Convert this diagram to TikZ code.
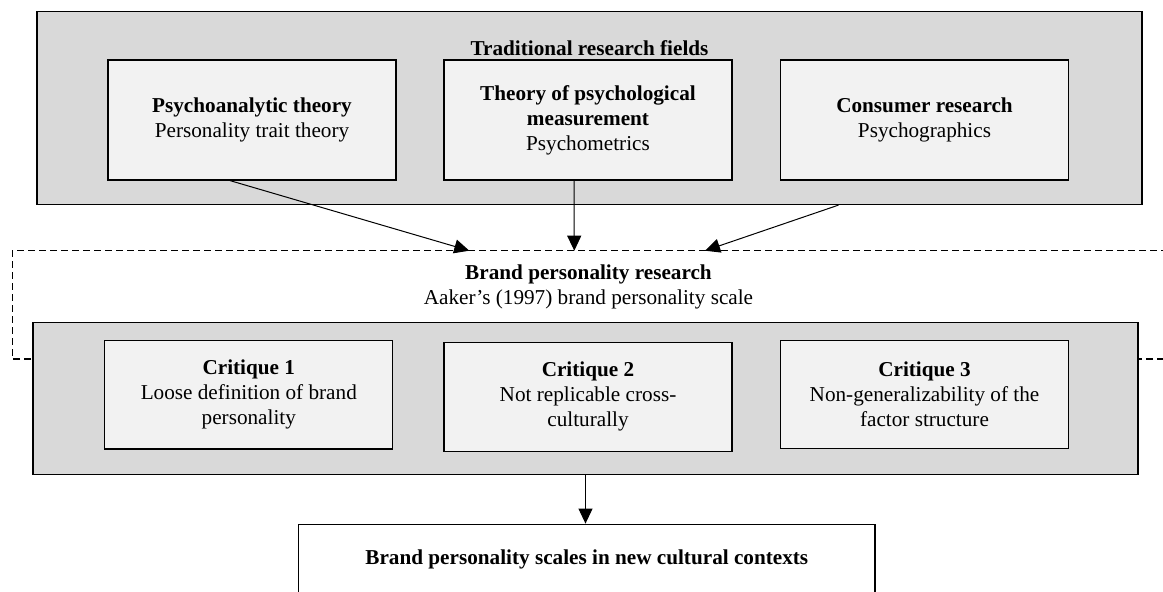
\documentclass[tikz,border=0pt]{standalone}
\usepackage{fontspec}
\setmainfont{Liberation Serif}
\usepackage{tikz}
\usetikzlibrary{arrows.meta}

\definecolor{groupgray}{RGB}{217,217,217}
\definecolor{boxgray}{RGB}{242,242,242}

\tikzset{
    groupbox/.style={draw, line width=1.2pt, fill=groupgray, minimum width=1105pt},
    fieldbox/.style={draw, line width=1.2pt, fill=boxgray, minimum width=288pt, minimum height=120pt, align=center},
    critbox/.style={draw, line width=1.2pt, fill=boxgray, minimum width=288pt, minimum height=108.5pt, align=center},
    dashframe/.style={line width=1.2pt, dash pattern=on 7pt off 4pt},
}

\begin{document}
\begin{tikzpicture}[x=1pt, y=-1pt, >={Triangle[length=15pt, width=14pt]},
    font=\fontsize{21.2}{25}\selectfont]
    \useasboundingbox (0, 0) rectangle (1163, 592);

    \node[groupbox, minimum height=193pt] at (589.5, 108) (fields) {};
    \node[font=\fontsize{21.2}{25}\selectfont\bfseries] at (589.5, 48) (fieldstitle) {Traditional research fields};
    \node[fieldbox] at (252, 120) (psy) {{\bfseries Psychoanalytic theory}\\Personality trait theory};
    \node[fieldbox] at (588, 120) (meas) {{\bfseries Theory of psychological}\\{\bfseries measurement}\\Psychometrics};
    \node[fieldbox] at (924.5, 120) (cons) {{\bfseries Consumer research}\\Psychographics};

    % dashed frame of the brand personality research
    \draw[dashframe] (1175, 359) -- (12.3, 359) -- (12.3, 250.7) -- (1175, 250.7);
    \node[align=center] at (588.5, 287) (brand) {{\bfseries Brand personality research}\\Aaker’s (1997) brand personality scale};
    \coordinate (inA) at (469.3, 250.7);
    \coordinate (inB) at (574.3, 250.7);
    \coordinate (inC) at (705, 250.7);

    \node[groupbox, minimum height=152.4pt] at (585.5, 398.5) (crits) {};
    \node[critbox] at (248.8, 394.8) (critA) {{\bfseries Critique 1}\\Loose definition of brand\\personality};
    \node[critbox] at (588, 396.9) (critB) {{\bfseries Critique 2}\\Not replicable cross-\\culturally};
    \node[critbox] at (924.5, 394.5) (critC) {{\bfseries Critique 3}\\Non-generalizability of the\\factor structure};

    \node[draw, line width=1.2pt, fill=white, minimum width=576.5pt, minimum height=71pt] at (586.8, 559.7) (scales) {\bfseries Brand personality scales in new cultural contexts};

    \draw[->, line width=1pt] ([xshift=-22pt]psy.south) -- (inA);
    \draw[->, line width=1pt] ([xshift=-14pt]meas.south) -- (inB);
    \draw[->, line width=1pt] ([xshift=249pt]fields.south) -- (inC);
    \draw[->, line width=1pt] (crits.south) -- (crits.south |- scales.north);
\end{tikzpicture}
\end{document}
